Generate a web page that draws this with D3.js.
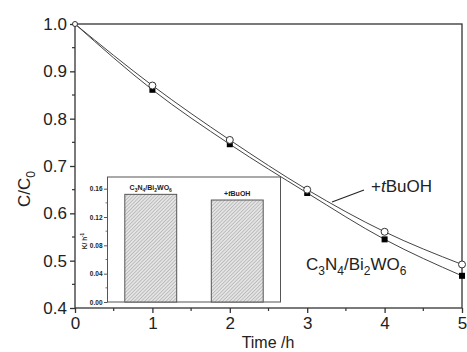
<!DOCTYPE html>
<html>
<head>
    <script src="https://d3js.org/d3.v7.min.js"></script>
    <style>
      body { margin: 0; background: #fff; }
      text { font-family: "Liberation Sans", Arial, sans-serif; fill: #222; }
    </style>
</head>
<body>
<script>
  var width = 467;
  var height = 352;

  // data
  var times = [0, 1, 2, 3, 4, 5];
  var pureVals = [1.0, 0.861, 0.746, 0.643, 0.545, 0.468];   // C3N4/Bi2WO6, filled squares
  var tbuohVals = [1.0, 0.870, 0.755, 0.650, 0.561, 0.492];  // +tBuOH, open circles
  var xTicks = [0, 1, 2, 3, 4, 5];
  var yTicks = [0.4, 0.5, 0.6, 0.7, 0.8, 0.9, 1.0];
  var insetCats = ["pure", "tbuoh"];
  var insetK = [0.152, 0.144];
  var insetTicks = [0.00, 0.04, 0.08, 0.12, 0.16];

  var ink = "#333";

  var svg = d3.select("body").append("svg")
    .attr("width", width)
    .attr("height", height);

  var defs = svg.append("defs");
  var pat = defs.append("pattern")
    .attr("id", "hatch")
    .attr("patternUnits", "userSpaceOnUse")
    .attr("width", 2.5).attr("height", 2.5)
    .attr("patternTransform", "rotate(45)");
  pat.append("rect").attr("width", 2.5).attr("height", 2.5).attr("fill", "#e4e4e4");
  pat.append("line").attr("x1", 0).attr("y1", 0).attr("x2", 0).attr("y2", 2.5)
    .attr("stroke", "#9a9a9a").attr("stroke-width", 1);

  var pL = 75, pR = 462, pT = 24, pB = 308;

  var x = d3.scaleLinear().domain([0, 5]).range([pL, pR]);
  var y = d3.scaleLinear().domain([0.4, 1.0]).range([pB, pT]);

  // frame
  svg.append("rect")
    .attr("x", pL).attr("y", pT)
    .attr("width", pR - pL).attr("height", pB - pT)
    .attr("fill", "none").attr("stroke", ink).attr("stroke-width", 1.3);

  // minor ticks
  svg.selectAll(".xminor").data(d3.range(0.5, 5, 1)).enter()
    .append("line")
    .attr("x1", function(d){ return x(d); }).attr("x2", function(d){ return x(d); })
    .attr("y1", pB).attr("y2", pB + 3)
    .attr("stroke", ink).attr("stroke-width", 1.2);
  svg.selectAll(".yminor").data(d3.range(0.45, 1.0, 0.1)).enter()
    .append("line")
    .attr("y1", function(d){ return y(d); }).attr("y2", function(d){ return y(d); })
    .attr("x1", pL).attr("x2", pL - 3)
    .attr("stroke", ink).attr("stroke-width", 1.2);

  var xAxis = svg.append("g")
    .attr("transform", "translate(0," + pB + ")")
    .call(d3.axisBottom(x).tickValues(xTicks).tickSize(5).tickPadding(4).tickFormat(d3.format("d")));
  var yAxis = svg.append("g")
    .attr("transform", "translate(" + pL + ",0)")
    .call(d3.axisLeft(y).tickValues(yTicks).tickSize(5).tickPadding(3).tickFormat(d3.format(".1f")));
  [xAxis, yAxis].forEach(function(g){
    g.select(".domain").remove();
    g.selectAll(".tick line").attr("stroke", ink).attr("stroke-width", 1.3);
    g.selectAll("text").style("font-size", "17px").attr("fill", "#222");
  });

  // axis titles
  svg.append("text")
    .attr("x", 268).attr("y", 348)
    .attr("text-anchor", "middle")
    .style("font-size", "16px")
    .text("Time /h");

  var ylab = svg.append("text")
    .attr("transform", "translate(30,189) rotate(-90)")
    .attr("text-anchor", "middle")
    .style("font-size", "17px");
  ylab.append("tspan").text("C/C");
  ylab.append("tspan").attr("dy", 5).style("font-size", "12px").text("0");

  // curves
  var line = d3.line()
    .x(function(d, i){ return x(times[i]); })
    .y(function(d){ return y(d); })
    .curve(d3.curveMonotoneX);

  svg.append("path").datum(pureVals)
    .attr("d", line).attr("fill", "none")
    .attr("stroke", "#444").attr("stroke-width", 1);
  svg.append("path").datum(tbuohVals)
    .attr("d", line).attr("fill", "none")
    .attr("stroke", "#444").attr("stroke-width", 1);

  // markers
  svg.selectAll(".sq").data(pureVals.slice(1)).enter()
    .append("rect")
    .attr("x", function(d, i){ return x(times[i + 1]) - 3; })
    .attr("y", function(d){ return y(d) - 3; })
    .attr("width", 6).attr("height", 6)
    .attr("fill", "#000");
  svg.selectAll(".ci").data(tbuohVals).enter()
    .append("circle")
    .attr("cx", function(d, i){ return x(times[i]); })
    .attr("cy", function(d){ return y(d); })
    .attr("r", function(d, i){ return i === 0 ? 2.5 : 3.5; })
    .attr("fill", "#fff").attr("stroke", "#333").attr("stroke-width", 1);

  // annotations
  svg.append("line")
    .attr("x1", 332).attr("y1", 202).attr("x2", 364).attr("y2", 190)
    .attr("stroke", "#222").attr("stroke-width", 1.1);
  var t1 = svg.append("text").attr("x", 371).attr("y", 192).style("font-size", "17px");
  t1.append("tspan").text("+");
  t1.append("tspan").style("font-style", "italic").text("t");
  t1.append("tspan").text("BuOH");

  var t2 = svg.append("text").attr("x", 306).attr("y", 270).style("font-size", "17px");
  [["C", 0], ["3", 1], ["N", 0], ["4", 1], ["/Bi", 0], ["2", 1], ["WO", 0], ["6", 1]].forEach(function(p, i, arr){
    var prev = i > 0 ? arr[i - 1][1] : 0;
    var dy = p[1] === prev ? 0 : (p[1] ? 5 : -5);
    t2.append("tspan").attr("dy", dy).style("font-size", p[1] ? "12px" : "17px").text(p[0]);
  });

  // inset
  var il = 107.5, ir = 280.5, it = 177, ib = 302;
  svg.append("rect")
    .attr("x", il).attr("y", it).attr("width", ir - il).attr("height", ib - it)
    .attr("fill", "#fff").attr("stroke", "#555").attr("stroke-width", 1);

  var ix = d3.scaleBand().domain(insetCats).range([il, ir]).paddingInner(0.4).paddingOuter(0.2);
  var iy = d3.scaleLinear().domain([0, 0.1765]).range([ib, it]);

  svg.selectAll(".bar").data(insetK).enter()
    .append("rect")
    .attr("x", function(d, i){ return ix(insetCats[i]); })
    .attr("y", function(d){ return iy(d); })
    .attr("width", ix.bandwidth())
    .attr("height", function(d){ return ib - iy(d); })
    .attr("fill", "url(#hatch)").attr("stroke", "#555").attr("stroke-width", 1);

  svg.selectAll(".iminor").data(d3.range(0.02, 0.17, 0.04)).enter()
    .append("line")
    .attr("y1", function(d){ return iy(d); }).attr("y2", function(d){ return iy(d); })
    .attr("x1", il).attr("x2", il - 2)
    .attr("stroke", "#555").attr("stroke-width", 0.8);

  var iAxis = svg.append("g")
    .attr("transform", "translate(" + il + ",0)")
    .call(d3.axisLeft(iy).tickValues(insetTicks).tickSize(3.5).tickPadding(1.5).tickFormat(d3.format(".2f")));
  iAxis.select(".domain").remove();
  iAxis.selectAll(".tick line").attr("stroke", "#555");
  iAxis.selectAll("text").style("font-size", "6.5px").style("font-weight", "bold").attr("fill", "#333");

  var klab = svg.append("text")
    .attr("transform", "translate(87,241) rotate(-90)")
    .attr("text-anchor", "middle")
    .style("font-size", "6.5px").style("font-weight", "bold");
  klab.append("tspan").text("K/ h");
  klab.append("tspan").attr("dy", -3).style("font-size", "4.5px").text("-1");

  var b1 = svg.append("text")
    .attr("x", ix(insetCats[0]) + ix.bandwidth() / 2).attr("y", iy(insetK[0]) - 4)
    .attr("text-anchor", "middle").style("font-size", "7px").style("font-weight", "bold");
  [["C", 0], ["3", 1], ["N", 0], ["4", 1], ["/Bi", 0], ["2", 1], ["WO", 0], ["6", 1]].forEach(function(p, i, arr){
    var prev = i > 0 ? arr[i - 1][1] : 0;
    var dy = p[1] === prev ? 0 : (p[1] ? 2 : -2);
    b1.append("tspan").attr("dy", dy).style("font-size", p[1] ? "5px" : "7px").text(p[0]);
  });

  var b2 = svg.append("text")
    .attr("x", ix(insetCats[1]) + ix.bandwidth() / 2).attr("y", iy(insetK[1]) - 4)
    .attr("text-anchor", "middle").style("font-size", "7px").style("font-weight", "bold");
  b2.append("tspan").text("+");
  b2.append("tspan").style("font-style", "italic").text("t");
  b2.append("tspan").text("BuOH");
</script>
</body>
</html>
